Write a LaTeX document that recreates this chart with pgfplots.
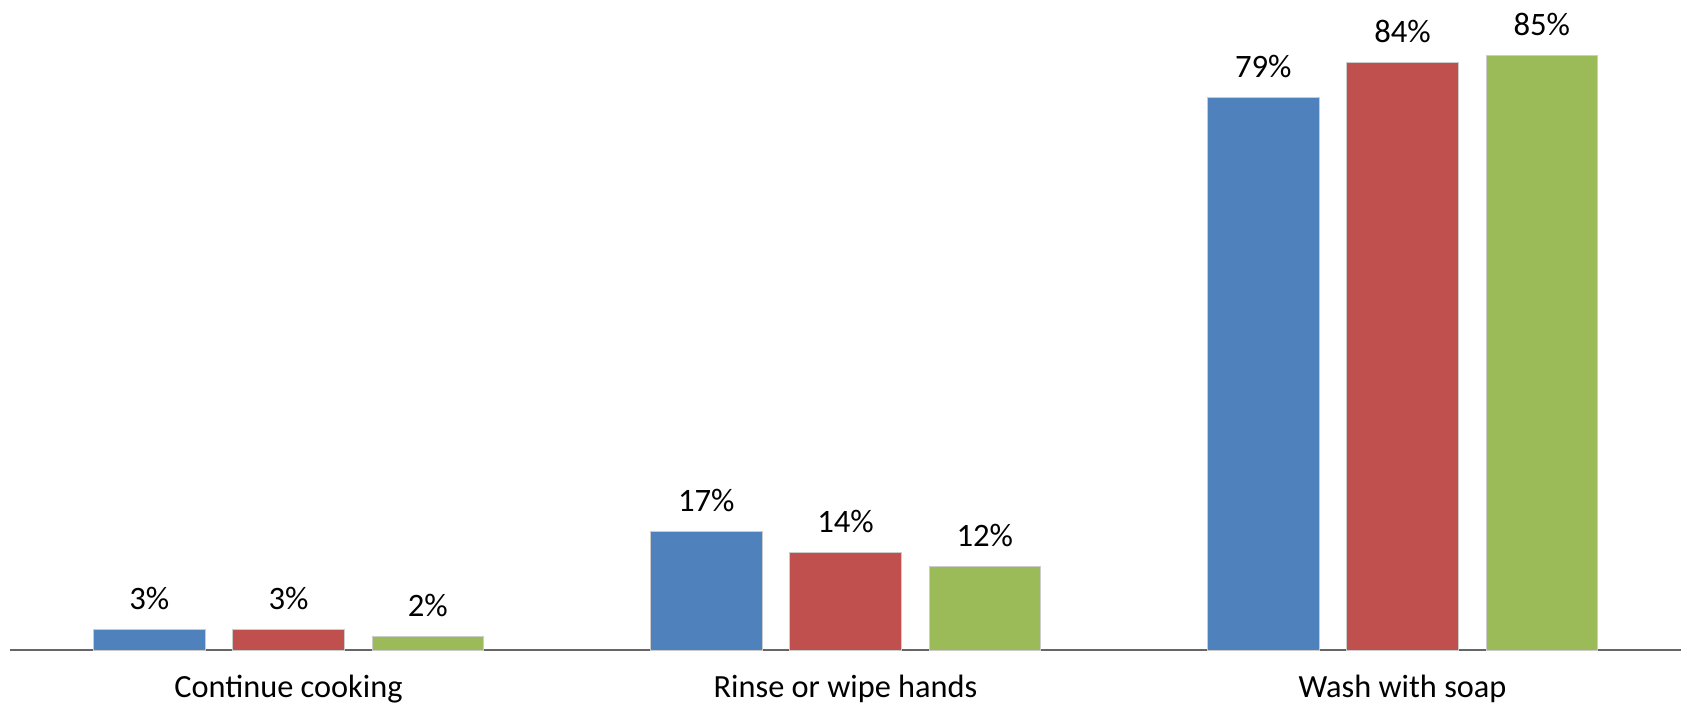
\documentclass[border=0pt]{standalone}
\usepackage{pgfplots}
\pgfplotsset{compat=1.18}
\usepackage{fontspec}
\setmainfont{Carlito}
\definecolor{cblue}{HTML}{4F81BD}
\definecolor{cred}{HTML}{C0504D}
\definecolor{cgreen}{HTML}{9BBB59}
\begin{document}
\begin{tikzpicture}
\begin{axis}[
  name=ax,
  scale only axis,
  width=167.1mm, height=65mm,
  xmin=-0.5, xmax=2.5,
  ymin=0, ymax=92.9,
  axis x line*=bottom,
  axis y line=none,
  axis line style={draw=gray!80!black, line width=0.5pt, -},
  xtick={0,1,2},
  xticklabels={Continue cooking, Rinse or wipe hands, Wash with soap},
  major tick length=0pt,
  xticklabel style={font=\fontsize{9.2pt}{11pt}\selectfont, anchor=base, yshift=-4.75mm},
  /pgf/number format/assume math mode=true,
  ybar,
  bar width=0.2,
  nodes near coords={\pgfmathprintnumber{\pgfplotspointmeta}\%},
  nodes near coords style={font=\fontsize{9.3pt}{11pt}\selectfont, anchor=base, yshift=2.0mm, text=black},
  clip=false,
]
\addplot[fill=cblue, draw=black!20, line width=0.2pt, bar shift=-0.25] coordinates {(0,3) (1,17) (2,79)};
\addplot[fill=cred, draw=black!20, line width=0.2pt, bar shift=0] coordinates {(0,3) (1,14) (2,84)};
\addplot[fill=cgreen, draw=black!20, line width=0.2pt, bar shift=0.25] coordinates {(0,2) (1,12) (2,85)};
\end{axis}
\pgfresetboundingbox
\path ([xshift=-1.0mm,yshift=-5.6mm]ax.south west) rectangle (ax.north east);
\end{tikzpicture}
\end{document}
